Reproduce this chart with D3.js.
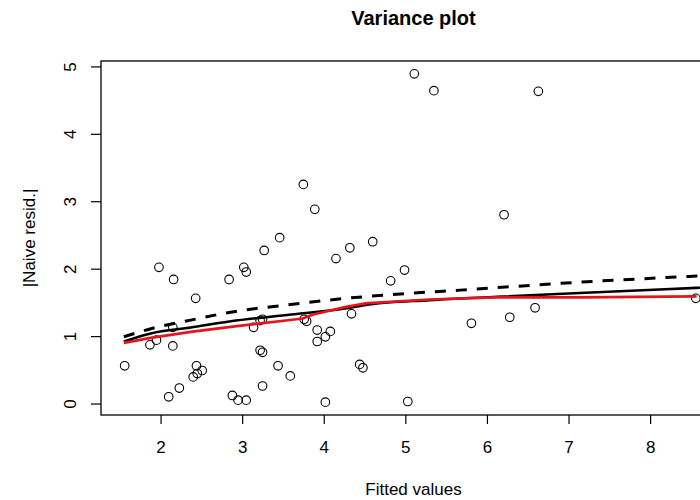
<!DOCTYPE html>
<html>
<head>
<meta charset="utf-8">
<script src="https://cdn.jsdelivr.net/npm/d3@7"></script>
<style>
  html, body { margin: 0; padding: 0; background: #fff; }
  svg { display: block; }
  text { font-family: "Liberation Sans", Arial, Helvetica, sans-serif; fill: #000; }
</style>
</head>
<body>
<svg id="chart" width="700" height="500"></svg>
<script>
// Observations: fitted value and absolute naive residual
const fittedX = [1.56, 1.87, 1.95, 1.98, 2.16, 2.15, 2.15, 2.10, 2.23, 2.43, 2.44, 2.40, 2.45, 2.51,
  2.84, 2.88, 2.95, 3.05, 3.02, 3.05, 3.27, 3.46, 3.14, 3.22, 3.25, 3.22, 3.25, 3.25, 3.44, 3.59,
  3.76, 3.79, 4.15, 3.92, 3.92, 4.02, 4.08, 4.02, 4.32, 4.60, 4.82, 4.99, 4.34, 4.44, 4.48, 5.03,
  5.81, 6.28, 6.59, 5.11, 5.35, 6.63, 6.21, 3.75, 3.89, 8.56];
const absResid = [0.56, 0.87, 0.94, 2.02, 1.84, 1.13, 0.855, 0.10, 0.23, 1.56, 0.56, 0.395, 0.445, 0.49,
  1.84, 0.12, 0.05, 0.05, 2.02, 1.95, 2.27, 2.46, 1.13, 1.23, 1.25, 0.79, 0.76, 0.26, 0.56, 0.41,
  1.25, 1.22, 2.15, 1.09, 0.92, 0.99, 1.07, 0.02, 2.31, 2.40, 1.82, 1.98, 1.33, 0.58, 0.53, 0.03,
  1.19, 1.28, 1.42, 4.89, 4.64, 4.63, 2.80, 3.25, 2.88, 1.56];

// Dashed curve
const dashX = [1.55, 1.88, 2.37, 2.86, 3.53, 4.26, 4.94, 5.67, 7.14, 8.57, 8.93];
const dashY = [0.99, 1.11, 1.237, 1.355, 1.46, 1.559, 1.625, 1.682, 1.80, 1.89, 1.91];

// Solid black curve
const solidX = [1.55, 1.88, 2.37, 2.86, 3.60, 4.26, 4.50, 5.30, 6.12, 7.14, 8.57, 8.93];
const solidY = [0.92, 1.04, 1.128, 1.22, 1.32, 1.41, 1.46, 1.534, 1.583, 1.64, 1.716, 1.735];

// Red smoother
const redX = [1.55, 1.88, 2.37, 2.86, 3.59, 3.74, 3.87, 4.26, 4.50, 5.30, 6.12, 7.14, 8.57];
const redY = [0.90, 0.974, 1.063, 1.137, 1.24, 1.262, 1.32, 1.43, 1.485, 1.544, 1.574, 1.574, 1.589];

const xTicks = [2, 3, 4, 5, 6, 7, 8];
const yTicks = [0, 1, 2, 3, 4, 5];

const svg = d3.select("#chart");
const plot = { left: 101, right: 726, top: 61, bottom: 415 };

const x = d3.scaleLinear().domain([1.27, 8.93]).range([plot.left, plot.right]);
const y = d3.scaleLinear().domain([-0.17, 5.08]).range([plot.bottom, plot.top]);

svg.append("clipPath").attr("id", "plot-clip")
  .append("rect")
  .attr("x", plot.left).attr("y", plot.top)
  .attr("width", plot.right - plot.left).attr("height", plot.bottom - plot.top);

// Axes
const xAxis = svg.append("g")
  .attr("transform", `translate(0,${plot.bottom})`)
  .call(d3.axisBottom(x).tickValues(xTicks).tickFormat(d3.format("d")).tickSize(9).tickPadding(17));
const yAxis = svg.append("g")
  .attr("transform", `translate(${plot.left},0)`)
  .call(d3.axisLeft(y).tickValues(yTicks).tickFormat(d3.format("d")).tickSize(10));

[xAxis, yAxis].forEach(g => {
  g.select(".domain").remove();
  g.selectAll(".tick line").attr("stroke", "#000").attr("stroke-width", 1.2);
  g.selectAll(".tick text").attr("font-size", 17)
    .attr("font-family", "'Liberation Sans', Arial, Helvetica, sans-serif");
});
// Rotated y tick labels, reading bottom to top
yAxis.selectAll(".tick text")
  .attr("text-anchor", "middle")
  .attr("x", 0).attr("y", 0).attr("dy", null)
  .attr("transform", "translate(-25,0) rotate(-90)");

// Box
svg.append("rect")
  .attr("x", plot.left).attr("y", plot.top)
  .attr("width", plot.right - plot.left).attr("height", plot.bottom - plot.top)
  .attr("fill", "none").attr("stroke", "#000").attr("stroke-width", 1.3);

const layer = svg.append("g").attr("clip-path", "url(#plot-clip)");

// Points
layer.selectAll("circle")
  .data(d3.range(fittedX.length))
  .join("circle")
  .attr("cx", i => x(fittedX[i]))
  .attr("cy", i => y(absResid[i]))
  .attr("r", 4.3)
  .attr("fill", "none")
  .attr("stroke", "#000")
  .attr("stroke-width", 1.1);

const line = d3.line().curve(d3.curveMonotoneX).x(d => x(d[0])).y(d => y(d[1]));

layer.append("path")
  .datum(d3.zip(dashX, dashY))
  .attr("d", line)
  .attr("fill", "none").attr("stroke", "#000").attr("stroke-width", 3)
  .attr("stroke-dasharray", "11,10");

layer.append("path")
  .datum(d3.zip(solidX, solidY))
  .attr("d", line)
  .attr("fill", "none").attr("stroke", "#000").attr("stroke-width", 2.6);

layer.append("path")
  .datum(d3.zip(redX, redY))
  .attr("d", d3.line().x(d => x(d[0])).y(d => y(d[1])))
  .attr("fill", "none").attr("stroke", "#e8141b").attr("stroke-width", 2.6)
  .attr("stroke-linejoin", "round");

// Titles
const cx = (plot.left + plot.right) / 2;
svg.append("text")
  .attr("x", cx).attr("y", 25)
  .attr("text-anchor", "middle")
  .attr("font-size", 20).attr("font-weight", "bold")
  .text("Variance plot");

svg.append("text")
  .attr("x", cx).attr("y", 495)
  .attr("text-anchor", "middle")
  .attr("font-size", 17)
  .text("Fitted values");

svg.append("text")
  .attr("transform", `translate(35,${(plot.top + plot.bottom) / 2}) rotate(-90)`)
  .attr("text-anchor", "middle")
  .attr("font-size", 17)
  .text("|Naive resid.|");
</script>
</body>
</html>
